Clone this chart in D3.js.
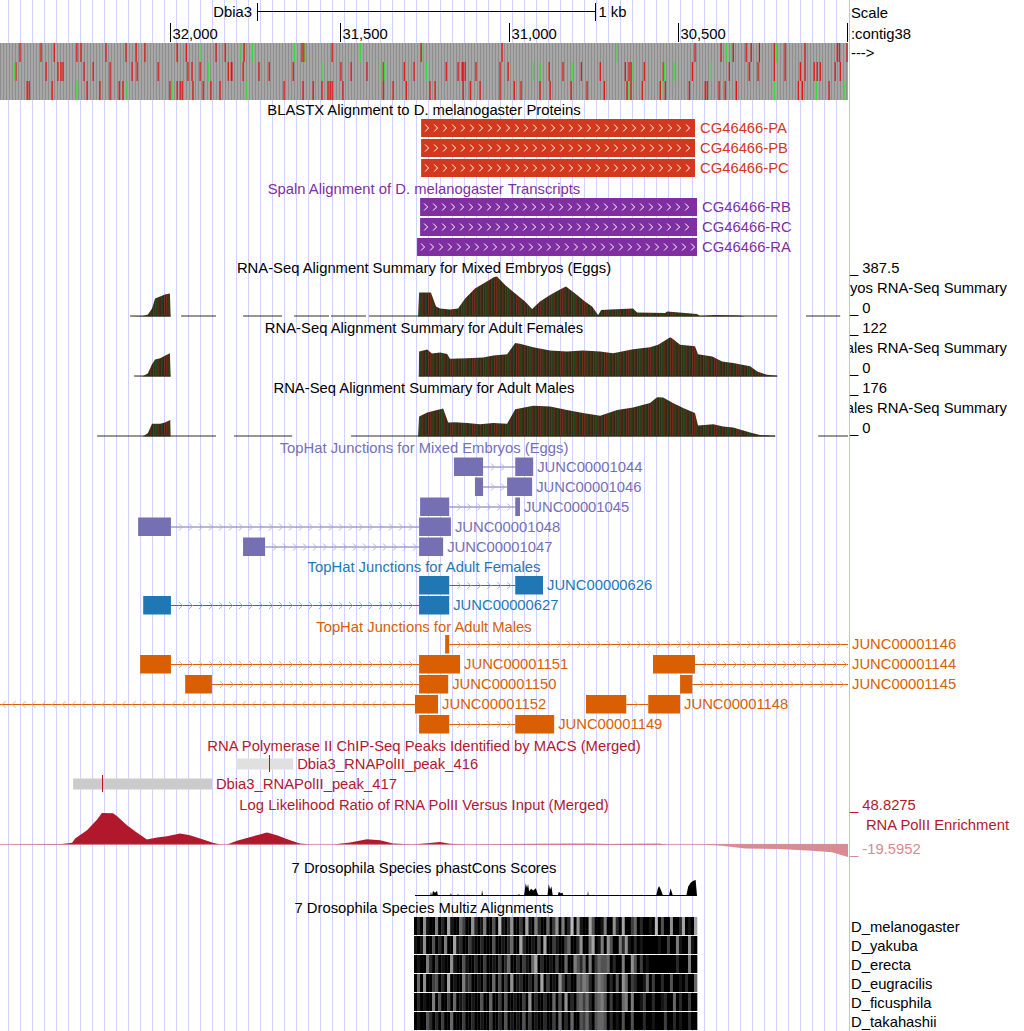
<!DOCTYPE html>
<html><head><meta charset="utf-8">
<script src="https://cdn.jsdelivr.net/npm/d3@7"></script>
<style>body{margin:0;background:#fff} text{font-family:"Liberation Sans",Arial,Helvetica,sans-serif;font-size:14.8px}</style>
</head><body><svg id="c" width="1024" height="1031"></svg>
<script>
// ---------------- DATA ----------------
const viewDomain = [32503, 29998];
const rulerTicks = [32000, 31500, 31000, 30500, 30000];
const rulerLabels = ["32,000", "31,500", "31,000", "30,500", ""];
const scaleBarSpan = [31744, 30744];
const scaleBarText = ["Dbia3", "1 kb"];
const rightHeader = ["Scale", ":contig38", "--->"];

// 3-frame colour track: positions of red / green marks per row
const frameRed = [
  [32444,32382,32343,32276,32264,32190,32131,32101,32075,31980,31953,31865,31838,31782,31611,31605,31522,31259,31020,30450,30373,30337,30299,30284,30260,30216,30184,30125,30030,30024,30001],
  [32456,32367,32332,32323,32317,32255,32228,32178,32113,32098,32036,31948,31936,31912,31829,31820,31818,31785,31738,31708,31637,31496,31466,31419,31371,31309,31280,31185,31150,31138,31135,31129,31097,31026,31002,30881,30840,30786,30730,30656,30645,30639,30600,30544,30458,30349,30290,30264,30216,30184,30139,30125,30098,30089,30080,30036,30021],
  [32423,32417,32349,32246,32208,32178,32151,32140,32001,31980,31971,31965,31933,31903,31880,31853,31664,31608,31578,31552,31534,31528,31522,31490,31371,31342,31303,31233,31218,31135,31114,31085,31026,30984,30964,30908,30878,30816,30769,30718,30651,30639,30606,30553,30538,30467,30420,30414,30379,30361,30328,30145,30133,30054]
];
const frameGreen = [
  [31909,31791,31758,31634,31602,31439,31253,30680,30358,30343,30210],
  [32459,31888,31552,31377,31368,31244,30928,30908,30813,30633,30541,30512,30402],
  [32276,32128,31995,31776,30645,30544,30216,30092,30010]
];

const blastxNames = ["CG46466-PA", "CG46466-PB", "CG46466-PC"];
const blastxSpans = [[31259, 30450], [31259, 30450], [31259, 30450]];
const spalnNames = ["CG46466-RB", "CG46466-RC", "CG46466-RA"];
const spalnSpans = [[31262, 30444], [31262, 30444], [31271, 30444]];

// RNA-seq coverage: segments of [position, value]
const embryoMax = 387.5, femaleMax = 122, maleMax = 176;
const embryoCov = [
  [[32119,0],[32081,5],[32066,19],[32054,78],[32045,174],[32030,194],[32016,213],[32001,223],[31999,0]],
  [[31968,0],[31865,0]],
  [[31785,0],[31670,0]],
  [[31634,0],[31531,0]],
  [[31525,0],[31422,0]],
  [[31413,0],[31268,0],[31265,232],[31230,232],[31215,97],[31203,78],[31174,68],[31150,78],[31129,174],[31100,271],[31070,329],[31043,383],[31035,387],[31011,305],[30981,223],[30952,145],[30931,73],[30908,145],[30878,208],[30849,262],[30831,291],[30804,223],[30775,145],[30754,97],[30736,15],[30727,63],[30701,68],[30633,78],[30621,39],[30538,34],[30532,48],[30444,24],[30435,5],[30391,15],[30317,10],[30302,0],[30207,0]],
  [[30122,0],[30021,0]]
];
const femaleCov = [
  [[32107,0],[32081,1],[32066,10],[32054,37],[32045,52],[32030,56],[32016,63],[32001,71],[31999,0]],
  [[31266,0],[31265,76],[31241,82],[31227,70],[31203,73],[31182,69],[31174,54],[31123,56],[31076,58],[31046,64],[31005,68],[30981,102],[30967,100],[30928,89],[30878,79],[30828,76],[30781,79],[30730,76],[30692,71],[30633,83],[30583,89],[30559,97],[30523,120],[30515,114],[30494,97],[30450,92],[30441,68],[30399,61],[30370,46],[30337,41],[30287,31],[30266,15],[30237,5],[30207,2]]
];
const maleCov = [
  [[32216,0],[32081,0],[32066,15],[32054,56],[32045,56],[32030,56],[32016,62],[32000,73],[31999,0],[31865,0]],
  [[31812,0],[31640,0]],
  [[31466,0],[31268,0],[31265,88],[31241,106],[31212,117],[31194,123],[31179,62],[31159,63],[31123,59],[31085,54],[31046,59],[31005,56],[30981,120],[30928,135],[30878,132],[30828,117],[30781,103],[30730,91],[30680,117],[30633,128],[30583,147],[30562,173],[30544,172],[30515,147],[30485,125],[30450,103],[30441,48],[30396,54],[30367,44],[30337,40],[30287,18],[30258,7],[30213,3]],
  [[30086,0],[29998,0]]
];

const embryoJunctions = [
  {name:"JUNC00001044", row:0, blocks:[[31162,31076],[30981,30928]]},
  {name:"JUNC00001046", row:1, blocks:[[31100,31076],[31005,30931]]},
  {name:"JUNC00001045", row:2, blocks:[[31262,31176],[30981,30967]]},
  {name:"JUNC00001048", row:3, blocks:[[32095,31998],[31265,31171]]},
  {name:"JUNC00001047", row:4, blocks:[[31785,31720],[31265,31194]]}
];
const femaleJunctions = [
  {name:"JUNC00000626", row:0, blocks:[[31265,31176],[30981,30899]]},
  {name:"JUNC00000627", row:1, blocks:[[32080,31998],[31265,31176]]}
];
const maleJunctions = [
  {name:"JUNC00001146", row:0, blocks:[[31188,31176],[29760,29700]], strand:"+"},
  {name:"JUNC00001151", row:1, blocks:[[32089,31998],[31265,31144]], strand:"+"},
  {name:"JUNC00001144", row:1, blocks:[[30574,30450],[29760,29700]], strand:"+"},
  {name:"JUNC00001150", row:2, blocks:[[31956,31877],[31265,31179]], strand:"+"},
  {name:"JUNC00001145", row:2, blocks:[[30494,30458],[29760,29700]], strand:"+"},
  {name:"JUNC00001152", row:3, blocks:[[32700,32640],[31277,31209]], strand:"-"},
  {name:"JUNC00001148", row:3, blocks:[[30772,30653],[30588,30494]], strand:"+"},
  {name:"JUNC00001149", row:4, blocks:[[31265,31176],[30981,30866]], strand:"+"}
];

const peakNames = ["Dbia3_RNAPolII_peak_416", "Dbia3_RNAPolII_peak_417"];
const peakSpans = [[31806, 31637], [32287, 31877]];
const peakSummits = [31708, 32202];
const peakScores = [220, 450];

const llrRange = [-19.5952, 48.8275];
const llrProfile = [[32503,0],[32326,0.5],[32320,0.8],[32290,2.6],[32281,9.3],[32246,22.1],[32216,38.6],[32202,48.8],[32169,48.5],[32157,43.7],[32128,29.8],[32098,18.1],[32069,7.7],[32039,10.8],[32010,12.8],[31971,17.0],[31942,14.4],[31903,7.7],[31874,2.6],[31853,-0.5],[31832,0],[31803,5.7],[31755,12.8],[31714,18.5],[31685,14.4],[31646,6.6],[31617,1.5],[31587,0],[31519,0],[31469,3.1],[31419,8.2],[31380,6.6],[31342,1.5],[31283,-0.5],[31233,2.0],[31203,3.6],[31174,1.1],[31123,0],[30828,1.1],[30760,1.1],[30704,0.5],[30556,1.1],[30532,0],[30435,0],[30370,-2.0],[30302,-6.2],[30201,-7.3],[30104,-9.7],[30045,-12.4],[29998,-19.5]];

const phastSpan = [31277, 30444];
const phastScores = [[31277,0],[31232,0],[31230,0.27],[31227,0],[31224,0.31],[31218,0.2],[31212,0.31],[31209,0],[31174,0],[31171,0.17],[31168,0],[31152,0],[31150,0.17],[31148,0],[31125,0],[31123,0.12],[31121,0],[31081,0],[31079,0.38],[31076,0],[30975,0],[30970,0.12],[30965,0],[30955,0],[30950,0.8],[30946,0.5],[30943,0.75],[30940,0.3],[30934,0.45],[30928,0.35],[30920,0.48],[30914,0.1],[30904,0],[30902,0.1],[30900,0],[30886,0],[30882,0.75],[30878,0.4],[30874,0.6],[30870,0],[30856,0],[30852,0.27],[30846,0.15],[30842,0.22],[30838,0],[30768,0],[30766,0.33],[30764,0],[30614,0],[30612,0.06],[30610,0],[30565,0],[30560,0.45],[30556,0.62],[30550,0.35],[30544,0],[30527,0],[30522,0.48],[30518,0.2],[30515,0],[30476,0],[30470,0.6],[30462,0.85],[30455,0.95],[30448,1.0],[30444,0]];

const multizSpan = [31280, 30444];
const multizSpecies = ["D_melanogaster", "D_yakuba", "D_erecta", "D_eugracilis", "D_ficusphila", "D_takahashii"];
const multizRows = [
  "0207100602081005300720160040910270030810620050370602907100840016007208003502001090400700280108",
  "1017004020600812003100200040010250082001040800310035002700580160740062710201000001003006100710",
  "0100620301007100410020030010302500203105802001030050064250603544502006007403010000000002000600",
  "0507003402080100623001030050403070120020408030107302005465204654020407503200150300200400102005",
  "0201006040030501200100400500304001003070200200504070204535204564030105606001300200120050200300",
  "0100420203005000300200100300204010104030100200305020500435204554020104004000200100030020100200"
];

// ---------------- DRAWING ----------------
const W = 1024, H = 1031, DW = 848, LX = 851;
const x = d3.scaleLinear().domain(viewDomain).range([0, DW]);
const svg = d3.select("#c");
svg.append("rect").attr("width", W).attr("height", H).attr("fill", "#fff");
const defs = svg.append("defs");
defs.append("clipPath").attr("id", "dataClip").append("rect").attr("x", 0).attr("y", 0).attr("width", DW).attr("height", H);
defs.append("clipPath").attr("id", "labelClip").append("rect").attr("x", 850).attr("y", 0).attr("width", 174).attr("height", H);

const C = {
  blastx: "#d2381c", spaln: "#7f2f9f", emb: "#7570b3", fem: "#1f78b4", male: "#d95f02",
  chip: "#b2182b", neg: "#d98a93", guide: "#d2d2ff", sep: "#f0b4b4"
};

// patterns
const pCod = defs.append("pattern").attr("id", "codon").attr("patternUnits", "userSpaceOnUse").attr("width", 3).attr("height", 10);
pCod.append("rect").attr("width", 3).attr("height", 10).attr("fill", "#a6a6a6");
pCod.append("rect").attr("width", 1).attr("height", 10).attr("fill", "#8e8e8e");
const stripeCols = ["#33301a", "#6e2a1c", "#1f421f", "#3d3618", "#5e2819", "#26381b", "#3a2816", "#55301a", "#213c1e", "#2e2a18", "#6a3020"];
const pRna = defs.append("pattern").attr("id", "rna").attr("patternUnits", "userSpaceOnUse").attr("width", stripeCols.length).attr("height", 10);
stripeCols.forEach((c, i) => pRna.append("rect").attr("x", i).attr("width", 1).attr("height", 10).attr("fill", c));

// guide lines
const gg = svg.append("g");
d3.range(8.5, DW, 12).forEach(gx => gg.append("line").attr("x1", gx).attr("x2", gx).attr("y1", 0).attr("y2", H).attr("stroke", C.guide));
svg.append("line").attr("x1", 849.5).attr("x2", 849.5).attr("y1", 0).attr("y2", H).attr("stroke", C.sep);

function txt(s, tx, ty, fill, anchor, parent) {
  return (parent || svg).append("text").attr("x", tx).attr("y", ty).attr("fill", fill || "#000")
    .attr("text-anchor", anchor || "start").text(s);
}
const data = svg.append("g").attr("clip-path", "url(#dataClip)");

// ----- scale bar & ruler -----
const sb0 = x(scaleBarSpan[0]), sb1 = x(scaleBarSpan[1]);
svg.append("line").attr("x1", sb0).attr("x2", sb1).attr("y1", 11.5).attr("y2", 11.5).attr("stroke", "#000");
[sb0, sb1].forEach(v => svg.append("line").attr("x1", Math.round(v) + 0.5).attr("x2", Math.round(v) + 0.5).attr("y1", 3).attr("y2", 21).attr("stroke", "#000"));
txt(scaleBarText[0], sb0 - 5, 17, "#000", "end");
txt(scaleBarText[1], sb1 + 3, 17);
rulerTicks.forEach((t, i) => {
  const tx = Math.round(Math.min(x(t), DW - 1)) + 0.5;
  svg.append("line").attr("x1", tx).attr("x2", tx).attr("y1", 23).attr("y2", 42).attr("stroke", "#000");
  if (rulerLabels[i]) txt(rulerLabels[i], tx + 2, 39);
});
txt(rightHeader[0], LX, 18);
txt(rightHeader[1], LX, 39);
txt(rightHeader[2], LX, 58);

// ----- 3-frame colour track -----
[0, 1, 2].forEach(r => {
  const y0 = 43 + r * 19;
  data.append("rect").attr("x", 0).attr("y", y0).attr("width", DW).attr("height", 19).attr("fill", "url(#codon)");
  frameRed[r].forEach(p => data.append("rect").attr("x", x(p) - 0.5).attr("y", y0).attr("width", 1.1).attr("height", 19).attr("fill", "#ee0000"));
  frameGreen[r].forEach(p => data.append("rect").attr("x", x(p) - 0.5).attr("y", y0).attr("width", 1.1).attr("height", 19).attr("fill", "#22ee22"));
});

// ----- gene-model tracks with chevrons -----
function modelTrack(title, titleY, names, spans, col, top0) {
  txt(title, 424, titleY, title.startsWith("BLASTX") ? "#000" : col, "middle");
  spans.forEach((s, i) => {
    const x1 = x(s[0]), x2 = x(s[1]), ty = top0 + i * 20, cy = ty + 9;
    data.append("rect").attr("x", x1).attr("y", ty).attr("width", x2 - x1).attr("height", 18).attr("fill", col);
    let d = "";
    for (let cx = x1 + 6; cx < x2 - 3; cx += 9) d += `M${cx - 2},${cy - 3.5}L${cx + 1.5},${cy}L${cx - 2},${cy + 3.5}`;
    data.append("path").attr("d", d).attr("fill", "none").attr("stroke", "#fff").attr("stroke-width", 1);
    txt(names[i], x2 + 5, cy + 5, col);
  });
}
modelTrack("BLASTX Alignment to D. melanogaster Proteins", 115, blastxNames, blastxSpans, C.blastx, 119);
modelTrack("Spaln Alignment of D. melanogaster Transcripts", 194, spalnNames, spalnSpans, C.spaln, 198);

// ----- RNA-seq tracks -----
function rnaTrack(title, titleY, base, maxV, segs, rightName) {
  txt(title, 424, titleY, "#000", "middle");
  const y = d3.scaleLinear().domain([0, maxV]).range([base, base - 40]);
  const area = d3.area().x(d => x(d[0])).y0(base).y1(d => y(d[1]));
  segs.forEach(seg => {
    data.append("path").attr("d", area(seg)).attr("fill", "url(#rna)");
    data.append("line").attr("x1", x(seg[0][0])).attr("x2", x(seg[seg.length - 1][0]))
      .attr("y1", base - 0.5).attr("y2", base - 0.5).attr("stroke", "#2e2e14").attr("stroke-width", 1);
  });
  txt("_ " + maxV, 850, titleY);
  txt(rightName, 1007, titleY + 20, "#000", "end").attr("clip-path", "url(#labelClip)");
  txt("_ 0", 850, titleY + 40);
}
rnaTrack("RNA-Seq Alignment Summary for Mixed Embryos (Eggs)", 273, 316.5, embryoMax, embryoCov, "Mixed Embryos RNA-Seq Summary");
rnaTrack("RNA-Seq Alignment Summary for Adult Females", 333, 376.5, femaleMax, femaleCov, "Adult Females RNA-Seq Summary");
rnaTrack("RNA-Seq Alignment Summary for Adult Males", 393, 436.5, maleMax, maleCov, "Adult Males RNA-Seq Summary");

// ----- junction tracks -----
function junctionTrack(title, titleY, rowC0, juncs, col, chevCol) {
  txt(title, 424, titleY, col, "middle");
  juncs.forEach(j => {
    const cy = rowC0 + j.row * 20;
    const b0 = j.blocks[0], b1 = j.blocks[1];
    const xa = x(b0[1]), xb = x(b1[0]);
    data.append("line").attr("x1", xa).attr("x2", xb).attr("y1", cy + 0.5).attr("y2", cy + 0.5).attr("stroke", col);
    let d = "";
    const minus = j.strand === "-";
    for (let cx = xa + 10; cx < xb - 4; cx += 10) {
      if (cx < -5 || cx > DW + 5) continue;
      d += minus ? `M${cx + 2},${cy - 3}L${cx - 1.5},${cy + 0.5}L${cx + 2},${cy + 4}` : `M${cx - 2},${cy - 3}L${cx + 1.5},${cy + 0.5}L${cx - 2},${cy + 4}`;
    }
    data.append("path").attr("d", d).attr("fill", "none").attr("stroke", chevCol).attr("stroke-width", 1);
    j.blocks.forEach(b => data.append("rect").attr("x", x(b[0])).attr("y", cy - 9).attr("width", x(b[1]) - x(b[0])).attr("height", 18.5).attr("fill", col));
    const endX = x(b1[1]);
    txt(j.name, endX > DW ? 852 : endX + 4, cy + 5, col);
  });
}
junctionTrack("TopHat Junctions for Mixed Embryos (Eggs)", 453, 466.5, embryoJunctions, C.emb, "#b4b0dc");
junctionTrack("TopHat Junctions for Adult Females", 572, 585, femaleJunctions, C.fem, "#8fbbdc");
junctionTrack("TopHat Junctions for Adult Males", 632, 644, maleJunctions, C.male, "#f0ad80");

// ----- ChIP peaks -----
txt("RNA Polymerase II ChIP-Seq Peaks Identified by MACS (Merged)", 424, 751, C.chip, "middle");
const peakGrey = d3.scaleLinear().domain([0, 1000]).range(["#f4f4f4", "#999999"]);
peakSpans.forEach((s, i) => {
  const cy = 764 + i * 20, x1 = x(s[0]), x2 = x(s[1]);
  data.append("rect").attr("x", x1).attr("y", cy - 5.5).attr("width", x2 - x1).attr("height", 11).attr("fill", peakGrey(peakScores[i]));
  const sx = Math.round(x(peakSummits[i])) + 0.5;
  data.append("line").attr("x1", sx).attr("x2", sx).attr("y1", cy - 9).attr("y2", cy + 8).attr("stroke", C.chip).attr("stroke-width", 1);
  txt(peakNames[i], x2 + 4, cy + 5, C.chip);
});

// ----- log-likelihood wiggle -----
txt("Log Likelihood Ratio of RNA PolII Versus Input (Merged)", 424, 810, C.chip, "middle");
const yl = d3.scaleLinear().domain(llrRange).range([857, 813]);
const pos = llrProfile.map(d => [d[0], Math.max(0, d[1])]);
const neg = llrProfile.map(d => [d[0], Math.min(0, d[1])]);
const llArea = d3.area().x(d => x(d[0])).y0(yl(0)).y1(d => yl(d[1]));
data.append("path").attr("d", llArea(neg)).attr("fill", C.neg);
data.append("path").attr("d", llArea(pos)).attr("fill", C.chip);
data.append("line").attr("x1", 0).attr("x2", DW).attr("y1", yl(0)).attr("y2", yl(0)).attr("stroke", "#d07a84").attr("stroke-width", 0.8);
txt("_ " + llrRange[1], 850, 810, C.chip);
txt("RNA PolII Enrichment", 1009, 830, C.chip, "end");
txt("_ " + llrRange[0], 850, 854, C.neg);

// ----- phastCons -----
txt("7 Drosophila Species phastCons Scores", 424, 873, "#000", "middle");
const yp = d3.scaleLinear().domain([0, 1]).range([896, 880]);
data.append("path").attr("d", d3.area().x(d => x(d[0])).y0(896).y1(d => yp(d[1]))(phastScores)).attr("fill", "#000");
data.append("rect").attr("x", x(phastSpan[0])).attr("y", 895).attr("width", x(phastSpan[1]) - x(phastSpan[0])).attr("height", 1).attr("fill", "#000");

// ----- multiz -----
txt("7 Drosophila Species Multiz Alignments", 424, 913, "#000", "middle");
multizRows.forEach((row, r) => {
  const ty = 917 + r * 19;
  const n = row.length, bw = (multizSpan[0] - multizSpan[1]) / n;
  for (let i = 0; i < n; i++) {
    const v = +row[i];
    const g = Math.round(v / 9 * 185);
    const a = x(multizSpan[0] - i * bw), b = x(multizSpan[0] - (i + 1) * bw);
    data.append("rect").attr("x", a).attr("y", ty).attr("width", b - a + 0.3).attr("height", 18).attr("fill", `rgb(${g},${g},${g})`);
  }
  txt(multizSpecies[r], LX, ty + 15);
});
</script></body></html>
